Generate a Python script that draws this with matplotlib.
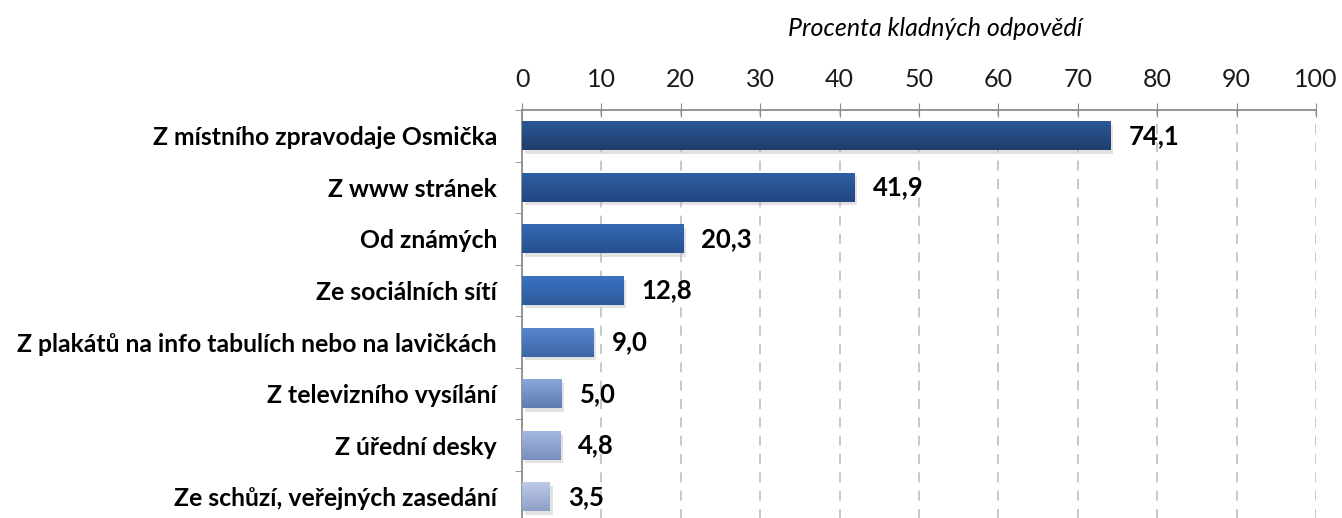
import numpy as np
import matplotlib
matplotlib.use("Agg")
import matplotlib.pyplot as plt
import matplotlib.patheffects as pe
from matplotlib.colors import LinearSegmentedColormap
from matplotlib.ticker import FixedLocator

plt.rcParams['font.family'] = ['Lato', 'DejaVu Sans']

# data
categories = [
    "Z místního zpravodaje Osmička",
    "Z www stránek",
    "Od známých",
    "Ze sociálních sítí",
    "Z plakátů na info tabulích nebo na lavičkách",
    "Z televizního vysílání",
    "Z úřední desky",
    "Ze schůzí, veřejných zasedání",
]
values = [74.1, 41.9, 20.3, 12.8, 9.0, 5.0, 4.8, 3.5]
value_labels = ["74,1", "41,9", "20,3", "12,8", "9,0", "5,0", "4,8", "3,5"]
x_ticks = list(range(0, 101, 10))
title = "Procenta kladných odpovědí"

# gradient colours per bar (top, bottom)
bar_colors = [
    ("#2c5896", "#1e3d6b"),
    ("#2f5fa3", "#224781"),
    ("#3469b3", "#27508e"),
    ("#3a73c2", "#2b5a99"),
    ("#5887cf", "#3d66a6"),
    ("#8aa5da", "#5f7cb2"),
    ("#a3b7de", "#7890c0"),
    ("#bccae8", "#8f9fc8"),
]

fig = plt.figure(figsize=(13.42, 5.18), dpi=100)
ax = fig.add_axes([522 / 1342, -4.6 / 518, 794 / 1342, 412.6 / 518])

n = len(values)
ypos = np.arange(n)
height = 0.56

bars = ax.barh(ypos, values, height=height, color="none", edgecolor="none", zorder=3)
for bar, (ctop, cbot) in zip(bars, bar_colors):
    bar.set_facecolor(cbot)
    bar.set_path_effects([pe.SimplePatchShadow(offset=(2, -2.5), shadow_rgbFace="#b8b8b8", alpha=0.4),
                          pe.Normal()])
    cmap = LinearSegmentedColormap.from_list("g", [ctop, cbot])
    grad = np.linspace(0, 1, 64).reshape(-1, 1)
    x0, y0 = bar.get_x(), bar.get_y()
    im = ax.imshow(grad, cmap=cmap, aspect="auto", origin="upper",
                   extent=(x0, x0 + bar.get_width(), y0 + bar.get_height(), y0),
                   zorder=4, interpolation="bicubic")
    im.set_clip_path(bar)

for y, v, lab in zip(ypos, values, value_labels):
    ax.annotate(lab, (v, y), xytext=(13, 0), textcoords="offset points",
                ha="left", va="center", fontsize=18.5, fontweight="bold", color="black", zorder=5)

ax.set_xlim(0, 100)
ax.set_ylim(n - 0.5, -0.5)
ax.xaxis.tick_top()
ax.set_xticks(x_ticks)
ax.set_xticklabels([str(t) for t in x_ticks], fontsize=18)
ax.tick_params(axis="x", direction="inout", length=10, color="#8c8c8c", pad=9, labelcolor="#1a1a1a")

ax.set_yticks(ypos)
ax.set_yticklabels(categories, fontsize=17.8, fontweight="bold")
ax.yaxis.set_minor_locator(FixedLocator(np.arange(-0.5, n, 1.0)))
ax.tick_params(axis="y", which="major", length=0, pad=18)
ax.tick_params(axis="y", which="minor", direction="out", length=5, color="#8c8c8c")

ax.grid(axis="x", color="#bfbfbf", linestyle=(0, (6, 5)), linewidth=1.2, zorder=0)
ax.set_axisbelow(True)
for s in ["right", "bottom"]:
    ax.spines[s].set_visible(False)
for s in ["top", "left"]:
    ax.spines[s].set_color("#8c8c8c")
    ax.spines[s].set_linewidth(1.3)
ax.spines["top"].set_zorder(6)

fig.text(935 / 1342, 1 - 28 / 518, title, ha="center", va="center",
         fontsize=18, fontstyle="italic")

fig.savefig("out.png", dpi=100)
